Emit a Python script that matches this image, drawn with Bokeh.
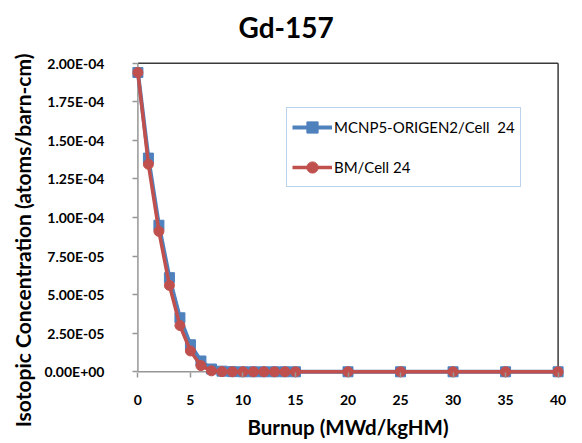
from bokeh.plotting import figure
from bokeh.models import Range1d, FixedTicker, CustomJSTickFormatter, Legend, Title
from bokeh.embed import file_html
from bokeh.resources import INLINE

burnup = [0, 1, 2, 3, 4, 5, 6, 7, 8, 9, 10, 11, 12, 13, 14, 15, 20, 25, 30, 35, 40]
mcnp = [1.94e-4, 1.385e-4, 9.5e-5, 6.1e-5, 3.5e-5, 1.75e-5, 7.0e-6, 1.8e-6, 4e-7, 1e-7,
        0, 0, 0, 0, 0, 0, 0, 0, 0, 0, 0]
bm = [1.94e-4, 1.345e-4, 9.1e-5, 5.6e-5, 3.0e-5, 1.35e-5, 4.0e-6, 6e-7, 1e-7, 0,
      0, 0, 0, 0, 0, 0, 0, 0, 0, 0, 0]
x_ticks = [0, 5, 10, 15, 20, 25, 30, 35, 40]
y_ticks = [0, 2.5e-5, 5.0e-5, 7.5e-5, 1.0e-4, 1.25e-4, 1.5e-4, 1.75e-4, 2.0e-4]
label_a = "MCNP5-ORIGEN2/Cell  24"
label_b = "BM/Cell 24"
title_text = "Gd-157"
x_title = "Burnup (MWd/kgHM)"
y_title = "Isotopic Concentration (atoms/barn-cm)"

X0, X1 = 0, 40
Y0, Y1 = 0, 2.0e-4

BLUE = "#4F81BD"
RED = "#C0504D"
GRAY = "#969696"
FONT = "Lato"

p = figure(width=582, height=443, output_backend="svg", toolbar_location=None,
           x_range=Range1d(-0.8, 40.8), y_range=Range1d(-5e-6, 2.05e-4),
           min_border_left=129, min_border_right=16, min_border_top=55,
           min_border_bottom=64)
p.outline_line_color = None
p.grid.visible = False
p.background_fill_color = "white"
p.border_fill_color = "white"

# frame borders (top / right) and axis lines at zero
p.segment(x0=[X0, X1], y0=[Y1, Y0], x1=[X1, X1], y1=[Y1, Y1],
          line_color="#3a3a3a", line_width=1.5, level="underlay")
p.segment(x0=[X0, X0], y0=[Y0, Y0], x1=[X1, X0], y1=[Y0, Y1],
          line_color=GRAY, line_width=1.5, level="underlay")

for ax in (p.xaxis, p.yaxis):
    ax.axis_line_color = None
    ax.major_tick_line_color = GRAY
    ax.major_tick_line_width = 1.5
    ax.minor_tick_line_color = None
    ax.major_label_text_font = FONT
    ax.major_label_text_font_style = "bold"
    ax.major_label_text_font_size = "14px"
    ax.major_label_text_color = "black"
    ax.axis_label_text_font = FONT
    ax.axis_label_text_font_style = "bold"
    ax.axis_label_text_color = "black"

p.xaxis.major_tick_in = 7
p.xaxis.major_tick_out = -2
p.yaxis.major_tick_in = 8
p.yaxis.major_tick_out = -3

p.xaxis.ticker = FixedTicker(ticks=x_ticks)
p.yaxis.ticker = FixedTicker(ticks=y_ticks)
p.yaxis.formatter = CustomJSTickFormatter(code="""
const s = tick.toExponential(2).toUpperCase();
const parts = s.split("E");
let e = parseInt(parts[1]);
const sign = e < 0 ? "-" : "+";
e = Math.abs(e);
return parts[0] + "E" + sign + (e < 10 ? "0" + e : "" + e);
""")
p.xaxis.axis_label = x_title
p.xaxis.axis_label_text_font_size = "20.5px"
p.xaxis.major_label_standoff = 15
p.xaxis.axis_label_standoff = 7

# y label: trailing no-break spaces push the visible text below the frame centre
p.yaxis.axis_label = y_title + "\u00a0" * 9
p.yaxis.axis_label_text_font_size = "21px"
p.yaxis.major_label_standoff = 25
p.yaxis.axis_label_standoff = 6

top_title = Title(text=title_text, align="left", offset=109, standoff=19,
                  vertical_align="top",
                  text_font=FONT, text_font_size="28px", text_font_style="bold",
                  text_color="black")
p.add_layout(top_title, "above")

l1 = p.line(burnup, mcnp, line_color=BLUE, line_width=4)
s1 = p.scatter(burnup, mcnp, marker="square", size=10, fill_color=BLUE, line_color=BLUE)
l2 = p.line(burnup, bm, line_color=RED, line_width=3.5)
s2 = p.scatter(burnup, bm, marker="circle", size=10, fill_color=RED, line_color=RED)

legend = Legend(items=[(label_a, [l1, s1]), (label_b, [l2, s2])],
                location=(157, 192), orientation="vertical")
legend.margin = 0
legend.padding = 5
legend.spacing = 12
legend.glyph_width = 40
legend.glyph_height = 28
legend.label_height = 28
legend.label_standoff = 2
legend.label_text_font = FONT
legend.label_text_font_size = "15px"
legend.label_text_color = "black"
legend.border_line_color = "#7AA7DD"
legend.border_line_width = 1
legend.background_fill_color = "white"
legend.background_fill_alpha = 1
p.add_layout(legend, "center")

open("out.html", "w").write(file_html(p, INLINE))
